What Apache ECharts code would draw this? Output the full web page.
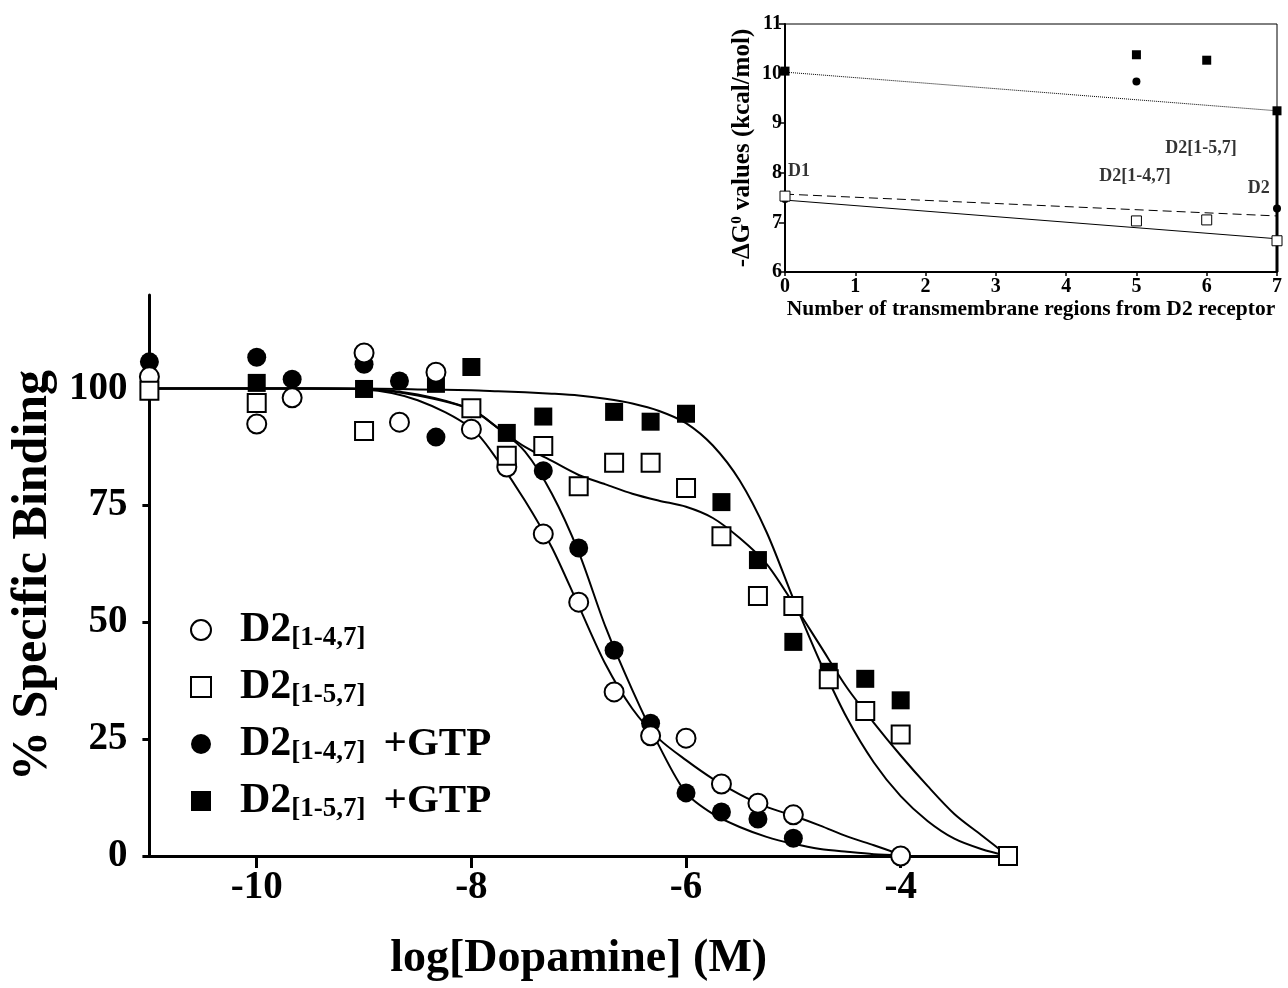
<!DOCTYPE html>
<html>
<head>
<meta charset="utf-8">
<title>Dopamine binding</title>
<script src="https://cdn.jsdelivr.net/npm/echarts@6/dist/echarts.min.js"></script>
<style>
  html, body { margin: 0; padding: 0; background: #fff; }
  #chart { width: 1288px; height: 988px; }
</style>
</head>
<body>
<div id="chart"></div>
<script>
// main panel: log[Dopamine] vs % specific binding
var xOpenCircle = [-11, -10, -9.67, -9, -8.67, -8.33, -8, -7.67, -7.33, -7, -6.67, -6.33, -6, -5.67, -5.33, -5, -4]
var yOpenCircle = [102.5, 92.4, 98, 107.6, 92.8, 103.5, 91.3, 83.2, 68.9, 54.3, 35.1, 25.7, 25.2, 15.4, 11.3, 8.8, 0]

var xFilledCircle = [-11, -10, -9.67, -9, -8.67, -8.33, -7.33, -7, -6.67, -6.33, -6, -5.67, -5.33, -5]
var yFilledCircle = [105.7, 106.7, 102, 105.2, 101.6, 89.6, 82.4, 65.9, 44, 28.4, 13.5, 9.4, 7.9, 3.8]

var xOpenSquare = [-11, -10, -9, -8, -7.67, -7.33, -7, -6.67, -6.33, -6, -5.67, -5.33, -5, -4.67, -4.33, -4, -3]
var yOpenSquare = [99.5, 96.9, 90.9, 95.8, 85.6, 87.7, 79.1, 84.1, 84.1, 78.7, 68.4, 55.6, 53.5, 37.8, 31, 26, 0]

var xFilledSquare = [-10, -9, -8.33, -8, -7.67, -7.33, -6.67, -6.33, -6, -5.67, -5.33, -5, -4.67, -4.33, -4]
var yFilledSquare = [101.2, 99.9, 101, 104.6, 90.5, 94, 95, 92.9, 94.6, 75.7, 63.3, 45.8, 39.4, 37.9, 33.3]

// fitted curves
var curveX = [-11, -10.5, -10, -9.5, -9, -8.5, -8, -7.75, -7.5, -7.25, -7, -6.75, -6.5, -6.25, -6, -5.75, -5.5, -5.25, -5, -4.75, -4.5, -4.25, -4, -3.75, -3.5, -3.25, -3]
var fitOpenCircle = [100, 100, 100, 100, 99.8, 97.5, 91.5, 84.5, 76, 66, 53.5, 41, 31.5, 25, 20.5, 16.5, 13.2, 10.5, 8.6, 6.5, 4.2, 2.3, 0.3]
var fitFilledCircle = [100, 100, 100, 100, 99.9, 98.7, 95.5, 91.5, 86.5, 77.5, 65, 49, 35.5, 23.5, 13.5, 9, 6.2, 4.1, 2.6, 1.5, 0.9, 0.4, 0.2]
var fitOpenSquare = [100, 100, 100, 100, 99.9, 98.5, 95.5, 91.5, 87.5, 84.5, 81.5, 79.5, 77.5, 76, 74.7, 72.3, 68, 62.5, 54, 45, 36, 28.5, 21.5, 15, 9, 4.5, 0]
var fitFilledSquare = [100, 100, 100, 100, 100, 99.8, 99.6, 99.4, 99.2, 98.9, 98.5, 97.8, 96.8, 95.2, 92.6, 87.8, 80.3, 69.3, 55, 41.5, 29.5, 20, 12.8, 7.5, 3.7, 1.5, 0]

var mainXTicks = [-10, -8, -6, -4]
var mainYTicks = [0, 25, 50, 75, 100]

// inset: -dG0 vs number of TM regions from D2
var insetFilledSquare = [[0, 10.05], [5, 10.38], [6, 10.27], [7, 9.25]]
var insetFilledCircle = [[0, 7.47], [5, 9.84], [7, 7.28]]
var insetOpenSquare = [[0, 7.53], [5, 7.03], [6, 7.05], [7, 6.63]]
var insetDotted = [[0, 10.03], [7, 9.25]]
var insetDashed = [[0, 7.57], [7, 7.13]]
var insetSolid = [[0, 7.45], [7, 6.67]]
var insetD2Bar = [[7, 9.25], [7, 6]]
var insetLabels = [
  { name: 'D1', value: [0.2, 8.02] },
  { name: 'D2[1-4,7]', value: [4.98, 7.92] },
  { name: 'D2[1-5,7]', value: [5.92, 8.5] },
  { name: 'D2', value: [6.74, 7.69] }
]

var serif = "'Liberation Serif', 'DejaVu Serif', serif"

function zip(xs, ys) {
  return ys.map(function (y, i) { return [xs[i], y] })
}

var chart = echarts.init(document.getElementById('chart'))

var openStyle = { color: '#fff', borderColor: '#000', borderWidth: 2, opacity: 1 }
var fillStyle = { color: '#000', opacity: 1 }
var curveStyle = { color: '#000', width: 2 }

function curve(ys) {
  return {
    type: 'line', xAxisIndex: 0, yAxisIndex: 0, data: zip(curveX, ys),
    showSymbol: false, symbol: 'none', smooth: 0.3,
    lineStyle: curveStyle, z: 2, silent: true
  }
}

function insetLine(pts, type, width) {
  return {
    type: 'line', xAxisIndex: 1, yAxisIndex: 1, data: pts, symbol: 'none',
    lineStyle: { color: '#000', width: width, type: type }, z: 2
  }
}

chart.setOption({
  animation: false,
  backgroundColor: '#fff',
  grid: [
    { left: 148, top: 295, width: 860, height: 561 },
    { left: 785, top: 24, width: 492, height: 248, show: true, borderColor: '#000', borderWidth: 1 }
  ],
  legend: {
    orient: 'vertical',
    left: 190,
    top: 609,
    padding: 0,
    itemGap: 14,
    itemWidth: 20,
    itemHeight: 20,
    data: ['D2[1-4,7]', 'D2[1-5,7]', 'D2[1-4,7] +GTP', 'D2[1-5,7] +GTP'],
    formatter: function (name) {
      var m = name.match(/^D2(\[[^\]]+\]) ?(.*)$/)
      var s = '{a|D2}{b|' + m[1] + '}'
      if (m[2]) s += '{c|' + m[2] + '}'
      return s
    },
    textStyle: {
      color: '#000',
      rich: {
        a: { fontSize: 42, fontWeight: 'bold', fontFamily: serif, lineHeight: 44, padding: [0, 0, 0, 24] },
        b: { fontSize: 27, fontWeight: 'bold', fontFamily: serif, lineHeight: 16, verticalAlign: 'bottom' },
        c: { fontSize: 41, fontWeight: 'bold', fontFamily: serif, lineHeight: 44, padding: [0, 0, 0, 18] }
      }
    }
  },
  xAxis: [
    {
      type: 'value', gridIndex: 0, min: -11, max: -3,
      axisLine: { onZero: false, lineStyle: { color: '#000', width: 3 } },
      axisTick: { show: true, length: 12, customValues: mainXTicks, lineStyle: { color: '#000', width: 3 } },
      axisLabel: { customValues: mainXTicks, color: '#000', fontSize: 39, fontWeight: 'bold', fontFamily: serif, margin: 12 },
      splitLine: { show: false },
      name: 'log[Dopamine] (M)', nameLocation: 'middle', nameGap: 80,
      nameTextStyle: { color: '#000', fontSize: 46, fontWeight: 'bold', fontFamily: serif }
    },
    {
      type: 'value', gridIndex: 1, min: 0, max: 7, interval: 1,
      axisLine: { onZero: false, lineStyle: { color: '#000', width: 2 } },
      axisTick: { show: true, length: 4, lineStyle: { color: '#000', width: 1.5 } },
      axisLabel: { color: '#000', fontSize: 20, fontWeight: 'bold', fontFamily: serif, margin: 5 },
      splitLine: { show: false },
      name: 'Number of transmembrane regions from D2 receptor', nameLocation: 'middle', nameGap: 26,
      nameTextStyle: { color: '#000', fontSize: 21.5, fontWeight: 'bold', fontFamily: serif }
    }
  ],
  yAxis: [
    {
      type: 'value', gridIndex: 0, min: 0, max: 120,
      axisLine: { show: true, onZero: false, lineStyle: { color: '#000', width: 3 } },
      axisTick: { show: true, length: 7, customValues: mainYTicks, lineStyle: { color: '#000', width: 3 } },
      axisLabel: { customValues: mainYTicks, color: '#000', fontSize: 39, fontWeight: 'bold', fontFamily: serif, margin: 22 },
      splitLine: { show: false },
      name: '% Specific Binding', nameLocation: 'middle', nameGap: 82,
      nameTextStyle: { color: '#000', fontSize: 50, fontWeight: 'bold', fontFamily: serif }
    },
    {
      type: 'value', gridIndex: 1, min: 6, max: 11, interval: 1,
      axisLine: { show: true, onZero: false, lineStyle: { color: '#000', width: 2 } },
      axisTick: { show: true, length: 6, lineStyle: { color: '#000', width: 1.5 } },
      axisLabel: { color: '#000', fontSize: 20, fontWeight: 'bold', fontFamily: serif, margin: 3 },
      splitLine: { show: false },
      name: '-ΔG{s|0} values (kcal/mol)', nameLocation: 'middle', nameGap: 30,
      nameTextStyle: {
        color: '#000', fontSize: 25, fontWeight: 'bold', fontFamily: serif,
        rich: { s: { fontSize: 15, fontWeight: 'bold', fontFamily: serif, verticalAlign: 'top', lineHeight: 14 } }
      }
    }
  ],
  series: [
    curve(fitOpenCircle),
    curve(fitFilledCircle),
    curve(fitOpenSquare),
    curve(fitFilledSquare),
    {
      name: 'D2[1-4,7] +GTP', type: 'scatter', xAxisIndex: 0, yAxisIndex: 0,
      data: zip(xFilledCircle, yFilledCircle), symbol: 'circle', symbolSize: 19,
      itemStyle: fillStyle, clip: false, z: 3
    },
    {
      name: 'D2[1-4,7]', type: 'scatter', xAxisIndex: 0, yAxisIndex: 0,
      data: zip(xOpenCircle, yOpenCircle), symbol: 'circle', symbolSize: 19,
      itemStyle: openStyle, clip: false, z: 4
    },
    {
      name: 'D2[1-5,7] +GTP', type: 'scatter', xAxisIndex: 0, yAxisIndex: 0,
      data: zip(xFilledSquare, yFilledSquare), symbol: 'rect', symbolSize: 18,
      itemStyle: fillStyle, clip: false, z: 3
    },
    {
      name: 'D2[1-5,7]', type: 'scatter', xAxisIndex: 0, yAxisIndex: 0,
      data: zip(xOpenSquare, yOpenSquare), symbol: 'rect', symbolSize: 18,
      itemStyle: openStyle, clip: false, z: 4
    },
    insetLine(insetDotted, 'dotted', 1),
    insetLine(insetDashed, [9, 5], 1),
    insetLine(insetSolid, 'solid', 1),
    insetLine(insetD2Bar, 'solid', 3),
    {
      type: 'scatter', xAxisIndex: 1, yAxisIndex: 1, data: insetFilledSquare,
      symbol: 'rect', symbolSize: 9, itemStyle: fillStyle, clip: false, z: 4
    },
    {
      type: 'scatter', xAxisIndex: 1, yAxisIndex: 1, data: insetFilledCircle,
      symbol: 'circle', symbolSize: 8, itemStyle: fillStyle, clip: false, z: 3
    },
    {
      type: 'scatter', xAxisIndex: 1, yAxisIndex: 1, data: insetOpenSquare,
      symbol: 'rect', symbolSize: 10,
      itemStyle: { color: '#fff', borderColor: '#000', borderWidth: 1, opacity: 1 }, clip: false, z: 4
    },
    {
      type: 'scatter', xAxisIndex: 1, yAxisIndex: 1, data: insetLabels,
      symbolSize: 0, silent: true, z: 5,
      label: {
        show: true, position: 'inside', formatter: '{b}',
        color: '#000', fontSize: 18, fontWeight: 'bold', fontFamily: serif
      }
    }
  ]
})
</script>
</body>
</html>
